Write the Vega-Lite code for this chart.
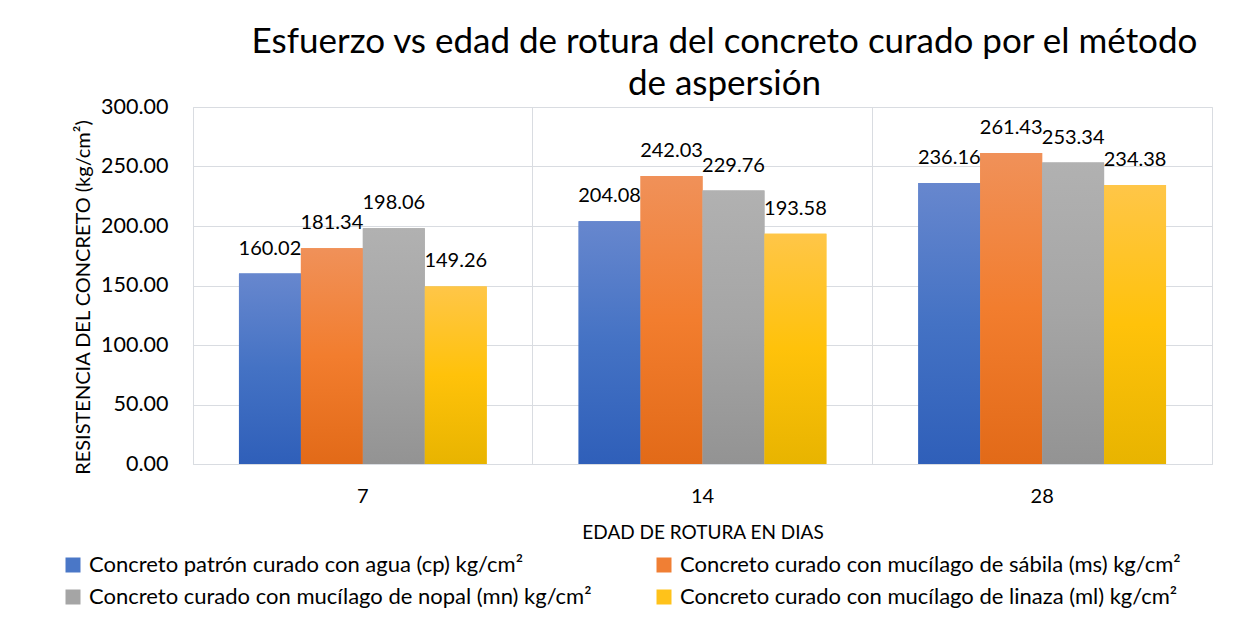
{
  "$schema": "https://vega.github.io/schema/vega-lite/v6.json",
  "autosize": {"type": "none"},
  "width": 1019,
  "height": 357,
  "padding": {"top": 107, "left": 193, "right": 45, "bottom": 177},
  "background": "white",
  "title": {
    "text": ["Esfuerzo vs edad de rotura  del concreto curado por el método", "de aspersión"],
    "font": "Lato",
    "fontSize": 35,
    "fontWeight": "normal",
    "color": "#000000",
    "anchor": "middle",
    "frame": "group",
    "dx": 22,
    "offset": -6,
    "lineHeight": 42
  },
  "data": {
    "values": [
      {"edad": "7", "serie": "Concreto patrón curado con agua (cp) kg/cm²", "valor": 160.02},
      {"edad": "7", "serie": "Concreto curado con mucílago de sábila (ms) kg/cm²", "valor": 181.34},
      {"edad": "7", "serie": "Concreto curado con mucílago de nopal (mn) kg/cm²", "valor": 198.06},
      {"edad": "7", "serie": "Concreto curado con mucílago de linaza (ml) kg/cm²", "valor": 149.26},
      {"edad": "14", "serie": "Concreto patrón curado con agua (cp) kg/cm²", "valor": 204.08},
      {"edad": "14", "serie": "Concreto curado con mucílago de sábila (ms) kg/cm²", "valor": 242.03},
      {"edad": "14", "serie": "Concreto curado con mucílago de nopal (mn) kg/cm²", "valor": 229.76},
      {"edad": "14", "serie": "Concreto curado con mucílago de linaza (ml) kg/cm²", "valor": 193.58},
      {"edad": "28", "serie": "Concreto patrón curado con agua (cp) kg/cm²", "valor": 236.16},
      {"edad": "28", "serie": "Concreto curado con mucílago de sábila (ms) kg/cm²", "valor": 261.43},
      {"edad": "28", "serie": "Concreto curado con mucílago de nopal (mn) kg/cm²", "valor": 253.34},
      {"edad": "28", "serie": "Concreto curado con mucílago de linaza (ml) kg/cm²", "valor": 234.38}
    ]
  },
  "encoding": {
    "x": {
      "field": "edad",
      "type": "ordinal",
      "sort": ["7", "14", "28"],
      "scale": {"paddingInner": 0, "paddingOuter": 0},
      "axis": {
        "title": "EDAD DE ROTURA EN DIAS",
        "titleFont": "Lato",
        "titleFontSize": 19,
        "titleFontWeight": "normal",
        "titleColor": "#000000",
        "titlePadding": 17,
        "labelFont": "Lato",
        "labelFontSize": 20,
        "labelColor": "#000000",
        "labelAngle": 0,
        "labelPadding": 22,
        "ticks": false,
        "tickSize": 0,
        "domain": true,
        "domainColor": "#d9dce1",
        "grid": true,
        "gridColor": "#d9dce1",
        "bandPosition": 0
      }
    },
    "xOffset": {
      "field": "serie",
      "type": "nominal",
      "scale": {
        "domain": [
          "Concreto patrón curado con agua (cp) kg/cm²",
          "Concreto curado con mucílago de sábila (ms) kg/cm²",
          "Concreto curado con mucílago de nopal (mn) kg/cm²",
          "Concreto curado con mucílago de linaza (ml) kg/cm²"
        ],
        "paddingInner": 0,
        "paddingOuter": 0.742
      }
    },
    "y": {
      "field": "valor",
      "type": "quantitative",
      "scale": {"domain": [0, 300], "nice": false},
      "axis": {
        "title": "RESISTENCIA DEL CONCRETO (kg/cm²)",
        "titleFont": "Lato",
        "titleFontSize": 20,
        "titleFontWeight": "normal",
        "titleColor": "#000000",
        "titlePadding": 7,
        "titleY": 190,
        "values": [0, 50, 100, 150, 200, 250, 300],
        "format": ".2f",
        "labelFont": "Lato",
        "labelFontSize": 21.5,
        "labelColor": "#000000",
        "labelPadding": 25,
        "ticks": false,
        "tickSize": 0,
        "domain": false,
        "grid": true,
        "gridColor": "#d9dce1"
      }
    }
  },
  "layer": [
    {
      "mark": {"type": "bar"},
      "encoding": {
        "color": {
          "field": "serie",
          "type": "nominal",
          "scale": {
            "domain": [
              "Concreto patrón curado con agua (cp) kg/cm²",
              "Concreto curado con mucílago de sábila (ms) kg/cm²",
              "Concreto curado con mucílago de nopal (mn) kg/cm²",
              "Concreto curado con mucílago de linaza (ml) kg/cm²"
            ],
            "range": ["#4a77c7", "#f07f34", "#a5a5a5", "#ffc21a"]
          },
          "legend": {
            "title": null,
            "orient": "none",
            "legendX": -131,
            "legendY": 447,
            "direction": "horizontal",
            "columns": 2,
            "columnPadding": 61,
            "rowPadding": 10,
            "symbolType": "square",
            "symbolSize": 225,
            "symbolStrokeWidth": 0,
            "symbolOffset": 0,
            "labelOffset": 5,
            "labelFont": "Lato",
            "labelFontSize": 22,
            "labelColor": "#000000",
            "labelLimit": 700
          }
        }
      }
    },
    {
      "transform": [{"filter": "datum.serie === 'Concreto patrón curado con agua (cp) kg/cm²'"}],
      "mark": {"type": "bar", "fill": {"gradient": "linear", "x1": 0, "y1": 0, "x2": 0, "y2": 1, "stops": [{"offset": 0, "color": "#6787ce"}, {"offset": 0.5, "color": "#4472c4"}, {"offset": 1, "color": "#2f5fb9"}]}},
      "encoding": {}
    },
    {
      "transform": [{"filter": "datum.serie === 'Concreto curado con mucílago de sábila (ms) kg/cm²'"}],
      "mark": {"type": "bar", "fill": {"gradient": "linear", "x1": 0, "y1": 0, "x2": 0, "y2": 1, "stops": [{"offset": 0, "color": "#f09159"}, {"offset": 0.5, "color": "#f27d2e"}, {"offset": 1, "color": "#e26a18"}]}},
      "encoding": {}
    },
    {
      "transform": [{"filter": "datum.serie === 'Concreto curado con mucílago de nopal (mn) kg/cm²'"}],
      "mark": {"type": "bar", "fill": {"gradient": "linear", "x1": 0, "y1": 0, "x2": 0, "y2": 1, "stops": [{"offset": 0, "color": "#b1b1b1"}, {"offset": 0.5, "color": "#a5a5a5"}, {"offset": 1, "color": "#939393"}]}},
      "encoding": {}
    },
    {
      "transform": [{"filter": "datum.serie === 'Concreto curado con mucílago de linaza (ml) kg/cm²'"}],
      "mark": {"type": "bar", "fill": {"gradient": "linear", "x1": 0, "y1": 0, "x2": 0, "y2": 1, "stops": [{"offset": 0, "color": "#ffc648"}, {"offset": 0.5, "color": "#ffc20a"}, {"offset": 1, "color": "#e8b400"}]}},
      "encoding": {}
    },
    {
      "mark": {"type": "text", "baseline": "bottom", "dy": -15, "font": "Lato", "fontSize": 20, "color": "#000000"},
      "encoding": {
        "text": {"field": "valor", "type": "quantitative", "format": ".2f"}
      }
    }
  ],
  "config": {
    "view": {"stroke": "#d9dce1"}
  }
}
